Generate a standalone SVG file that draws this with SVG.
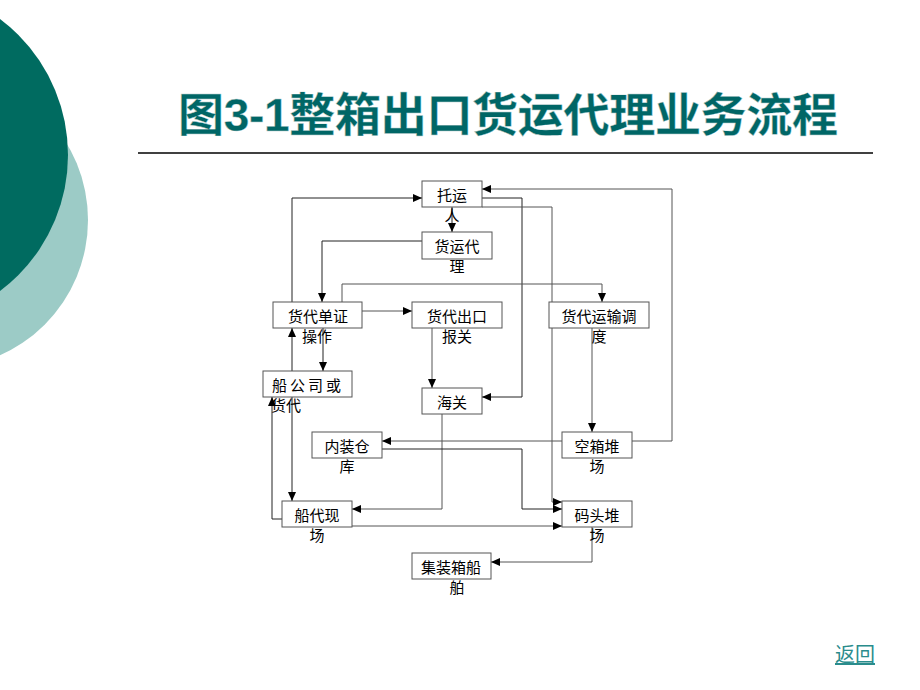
<svg xmlns="http://www.w3.org/2000/svg" width="920" height="690" viewBox="0 0 920 690">
<style>
.box{fill:#fff;stroke:#555;stroke-width:1}
.t{font-family:"Noto Sans CJK SC","Liberation Sans",sans-serif;font-size:15px;fill:#000;text-anchor:middle}
.e{fill:none;stroke:#555;stroke-width:1}
.ed{fill:none;stroke:#222;stroke-width:1}
</style>
<defs>
<marker id="ah" markerWidth="9" markerHeight="8" refX="9" refY="4" orient="auto" markerUnits="userSpaceOnUse">
<path d="M0,0 L9,4 L0,8 Z" fill="#000"/>
</marker>
</defs>
<rect width="920" height="690" fill="#fff"/>
<circle cx="-60" cy="220" r="148" fill="#9ccbc6"/>
<circle cx="-102" cy="155" r="170" fill="#006b60"/>
<text x="178" y="131" font-family="Liberation Sans,'Noto Sans CJK SC',sans-serif" font-weight="bold" font-size="46" fill="#006666" stroke="#b8d0d0" stroke-width="0.4" textLength="660">图3-1整箱出口货运代理业务流程</text>
<line x1="138" y1="153" x2="873" y2="153" stroke="#000" stroke-width="1.5"/>
<g id="connectors">
<path class="ed" d="M292,302 V198 H422" marker-end="url(#ah)"/>
<path class="ed" d="M452,207 V232" marker-end="url(#ah)"/>
<path class="ed" d="M422,241 H322 V302" marker-end="url(#ah)"/>
<path class="ed" d="M482,198 H522 V397 H482" marker-end="url(#ah)"/>
<path class="e" d="M482,207 H552 V502 H562" marker-end="url(#ah)"/>
<path class="e" d="M632,441 H672 V189 H482" marker-end="url(#ah)"/>
<path class="e" d="M342,302 V284 H602 V302" marker-end="url(#ah)"/>
<path class="e" d="M362,311 H412" marker-end="url(#ah)"/>
<path class="e" d="M432,328 V388" marker-end="url(#ah)"/>
<path class="ed" d="M323,328 V371" marker-end="url(#ah)"/>
<path class="ed" d="M292,371 V328" marker-end="url(#ah)"/>
<path class="ed" d="M282,519 H272 V397" marker-end="url(#ah)"/>
<path class="ed" d="M292,397 V501" marker-end="url(#ah)"/>
<path class="e" d="M442,414 V509 H352" marker-end="url(#ah)"/>
<path class="e" d="M562,441 H382" marker-end="url(#ah)"/>
<path class="ed" d="M382,449 H522 V509 H562" marker-end="url(#ah)"/>
<path class="e" d="M352,526 H562" marker-end="url(#ah)"/>
<path class="e" d="M592,527 V562 H491" marker-end="url(#ah)"/>
<path class="e" d="M592,328 V432" marker-end="url(#ah)"/>
</g>
<g id="n_tuoyunren"><rect class="box" x="422" y="181" width="60" height="26"/><text class="t" x="452" y="201">托运</text><text class="t" x="452" y="221">人</text></g>
<g id="n_huoyundaili"><rect class="box" x="422" y="232" width="70" height="27"/><text class="t" x="457" y="252">货运代</text><text class="t" x="457" y="272">理</text></g>
<g id="n_danzheng"><rect class="box" x="273" y="302" width="89" height="26"/><text class="t" x="318" y="322">货代单证</text><text class="t" x="317" y="342">操作</text></g>
<g id="n_baoguan"><rect class="box" x="412" y="302" width="90" height="26"/><text class="t" x="457" y="322">货代出口</text><text class="t" x="457" y="342">报关</text></g>
<g id="n_diaodu"><rect class="box" x="549" y="302" width="100" height="26"/><text class="t" x="599" y="322">货代运输调</text><text class="t" x="599" y="342">度</text></g>
<g id="n_chuangongsi"><rect class="box" x="263" y="371" width="89" height="26"/><text class="t" x="272" y="391" style="text-anchor:start;letter-spacing:3px">船公司或</text><text class="t" x="271" y="411" style="text-anchor:start">货代</text></g>
<g id="n_haiguan"><rect class="box" x="422" y="388" width="60" height="26"/><text class="t" x="452" y="408">海关</text></g>
<g id="n_neizhuang"><rect class="box" x="312" y="432" width="70" height="26"/><text class="t" x="347" y="452">内装仓</text><text class="t" x="347" y="472">库</text></g>
<g id="n_kongxiang"><rect class="box" x="562" y="432" width="70" height="26"/><text class="t" x="597" y="452">空箱堆</text><text class="t" x="597" y="472">场</text></g>
<g id="n_chuandai"><rect class="box" x="282" y="501" width="70" height="26"/><text class="t" x="317" y="521">船代现</text><text class="t" x="317" y="541">场</text></g>
<g id="n_matou"><rect class="box" x="562" y="501" width="70" height="26"/><text class="t" x="597" y="521">码头堆</text><text class="t" x="597" y="541">场</text></g>
<g id="n_chuan"><rect class="box" x="412" y="553" width="79" height="26"/><text class="t" x="451" y="573">集装箱船</text><text class="t" x="457" y="593">舶</text></g>
<text x="855" y="662" font-family="'Noto Sans CJK SC',sans-serif" font-size="20" fill="#2a8c8c" text-anchor="middle" text-decoration="underline">返回</text>
</svg>
